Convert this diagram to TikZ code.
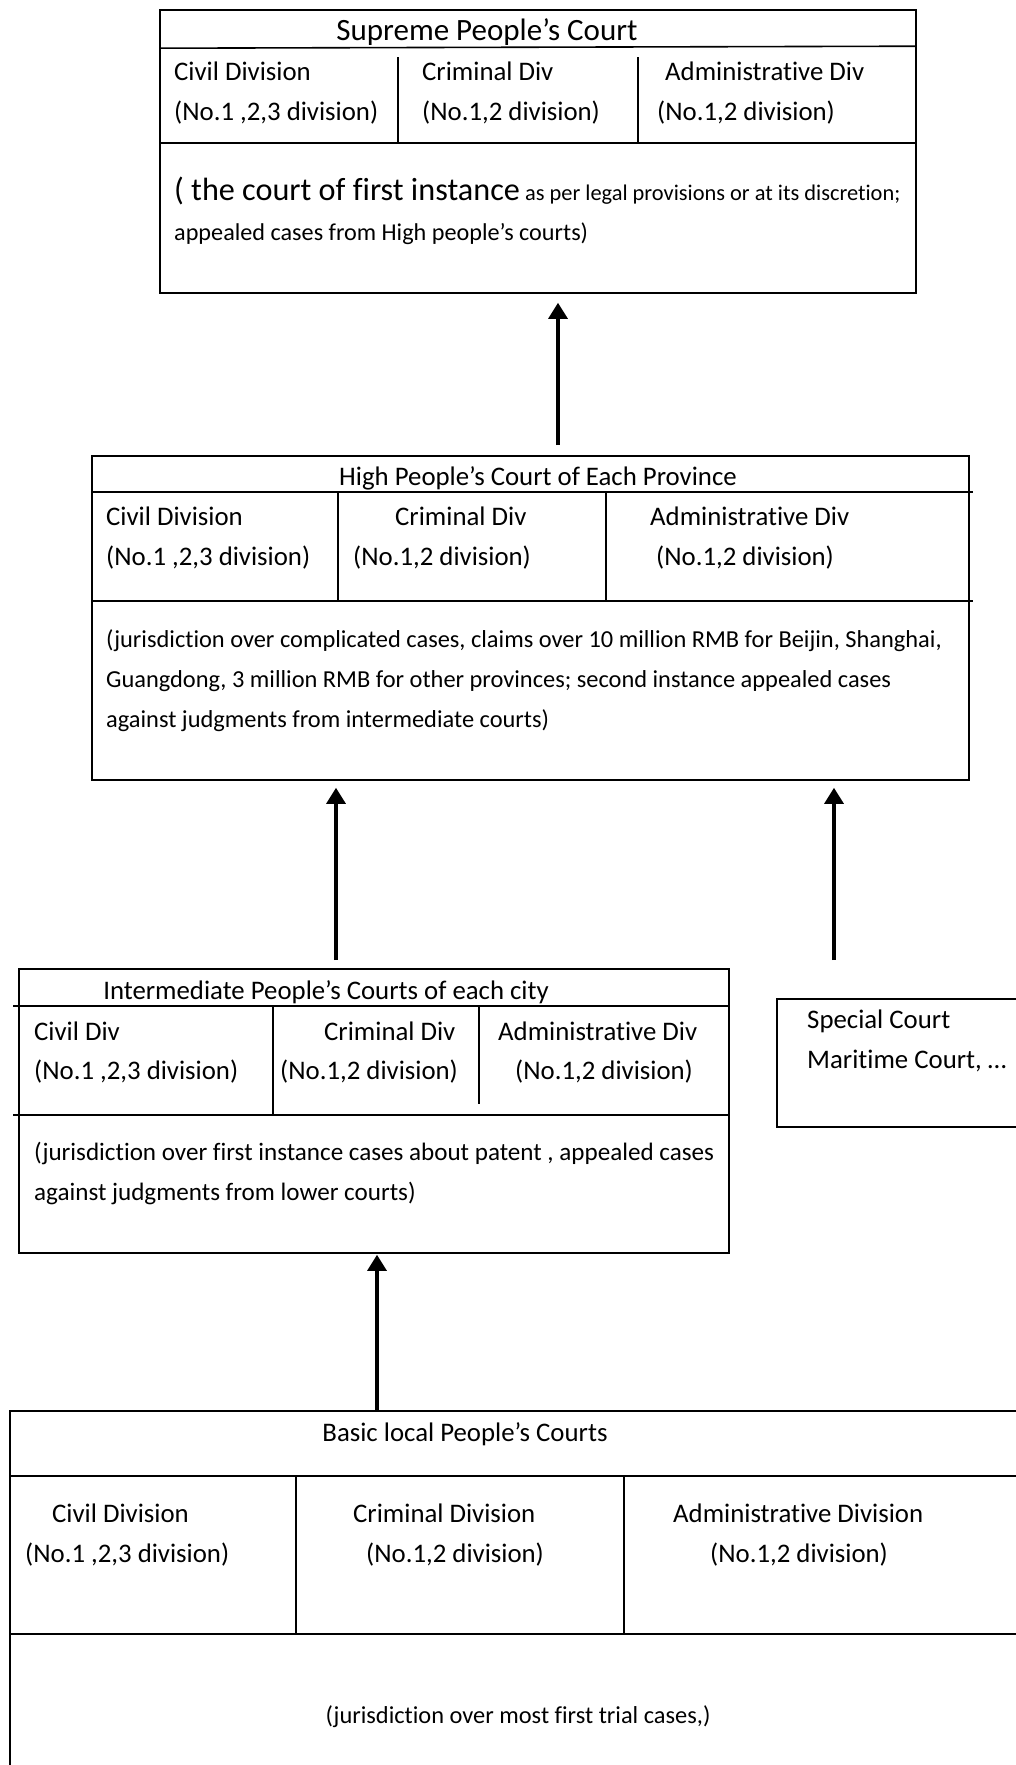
\documentclass[tikz,border=0pt]{standalone}
\usepackage{fontspec}
\setmainfont[Ligatures={TeX,NoCommon}]{Carlito}
\usetikzlibrary{arrows.meta}
\tikzset{
  courtbox/.style={draw, rectangle, line width=1.6pt, inner sep=0pt},
  courtrule/.style={line width=1.6pt},
  courtword/.style={anchor=base west, inner sep=0pt, font=\fontsize{26.8}{32}\selectfont},
  courttitle/.style={courtword, anchor=base},
  courtnote/.style={anchor=base west, inner sep=0pt, font=\fontsize{#1}{32}\selectfont},
  appeal/.style={line width=3.2pt, -{Triangle[width=19pt,length=16pt]}}
}

\begin{document}
\begin{tikzpicture}[x=1pt,y=-1pt]
    \useasboundingbox (0,0) rectangle (1016,1765);

    % Supreme court
    \node[courtbox, minimum width=756pt, minimum height=283pt] (s) at (538,151.5) {};
    \draw[courtrule] (s.north west) ++(0,39) -- ++(756,-2);
    \draw[courtrule] (s.north west) ++(0,134) -- ++(756,0);
    \draw[courtrule] (s.north west) ++(239,48) -- ++(0,86);
    \draw[courtrule] (s.north west) ++(479,48) -- ++(0,86);
    \node[courttitle, font=\fontsize{31}{32}\selectfont] (s-name) at (487,40) {Supreme People’s Court};
    \node[courtword] (s-civ) at (174,80) {Civil Division};
    \node[courtword] (s-civno) at (174,120) {(No.1 ,2,3 division)};
    \node[courtword] (s-cri) at (422,80) {Criminal Div};
    \node[courtword] (s-crino) at (422,120) {(No.1,2 division)};
    \node[courtword] (s-adm) at (665,80) {Administrative Div};
    \node[courtword] (s-admno) at (657,120) {(No.1,2 division)};
    \node[courtnote=22.4] (s-note1) at (174,200) {{\fontsize{32.2}{32}\selectfont ( the court of first instance} as per legal provisions or at its discretion;};
    \node[courtnote=24.2] (s-note2) at (174,240) {appealed cases from High people’s courts)};

    % High court
    \node[courtbox, minimum width=877pt, minimum height=324pt] (h) at (530.5,618) {};
    \draw[courtrule] (h.north west) ++(0,37) -- ++(882,0);
    \draw[courtrule] (h.north west) ++(0,146) -- ++(882,0);
    \draw[courtrule] (h.north west) ++(247,37) -- ++(0,109);
    \draw[courtrule] (h.north west) ++(515,37) -- ++(0,109);
    \node[courttitle] (h-name) at (538,485) {High People’s Court of Each Province};
    \node[courtword] (h-civ) at (106,525) {Civil Division};
    \node[courtword] (h-civno) at (106,565) {(No.1 ,2,3 division)};
    \node[courtword] (h-cri) at (395,525) {Criminal Div};
    \node[courtword] (h-crino) at (353,565) {(No.1,2 division)};
    \node[courtword] (h-adm) at (650,525) {Administrative Div};
    \node[courtword] (h-admno) at (656,565) {(No.1,2 division)};
    \node[courtnote=24.4] (h-note1) at (106,647) {(jurisdiction over complicated cases, claims over 10 million RMB for Beijin, Shanghai,};
    \node[courtnote=24.4] (h-note2) at (106,687) {Guangdong, 3 million RMB for other provinces; second instance appealed cases};
    \node[courtnote=24.4] (h-note3) at (106,727) {against judgments from intermediate courts)};

    % Intermediate court
    \node[courtbox, minimum width=710pt, minimum height=284pt] (i) at (374,1111) {};
    \draw[courtrule] (i.north west) ++(-5,38) -- ++(715,0);
    \draw[courtrule] (i.north west) ++(-5,147) -- ++(715,0);
    \draw[courtrule] (i.north west) ++(255,38) -- ++(0,109);
    \draw[courtrule] (i.north west) ++(461,38) -- ++(0,98);
    \node[courttitle] (i-name) at (326,999) {Intermediate People’s Courts of each city};
    \node[courtword] (i-civ) at (34,1040) {Civil Div};
    \node[courtword] (i-civno) at (34,1079) {(No.1 ,2,3 division)};
    \node[courtword] (i-cri) at (324,1040) {Criminal Div};
    \node[courtword] (i-crino) at (280,1079) {(No.1,2 division)};
    \node[courtword] (i-adm) at (498,1040) {Administrative Div};
    \node[courtword] (i-admno) at (515,1079) {(No.1,2 division)};
    \node[courtnote=25.1] (i-note1) at (34,1160) {(jurisdiction over first instance cases about patent , appealed cases};
    \node[courtnote=25.1] (i-note2) at (34,1200) {against judgments from lower courts)};

    % Special court
    \node[courtbox, minimum width=263pt, minimum height=128pt] (sp) at (908.5,1063) {};
    \node[courtword] (sp-name) at (807,1028) {Special Court};
    \node[courtword] (sp-mar) at (807,1068) {Maritime Court, …};

    % Basic court
    \node[courtbox, minimum width=1030pt, minimum height=379pt] (b) at (525,1600.5) {};
    \draw[courtrule] (b.north west) ++(0,66) -- ++(1030,0);
    \draw[courtrule] (b.north west) ++(0,224) -- ++(1030,0);
    \draw[courtrule] (b.north west) ++(287,66) -- ++(0,158);
    \draw[courtrule] (b.north west) ++(615,66) -- ++(0,158);
    \node[courttitle] (b-name) at (465,1441) {Basic local People’s Courts};
    \node[courtword] (b-civ) at (52,1522) {Civil Division};
    \node[courtword] (b-civno) at (25,1562) {(No.1 ,2,3 division)};
    \node[courtword] (b-cri) at (353,1522) {Criminal Division};
    \node[courtword] (b-crino) at (366,1562) {(No.1,2 division)};
    \node[courtword] (b-adm) at (673,1522) {Administrative Division};
    \node[courtword] (b-admno) at (710,1562) {(No.1,2 division)};
    \node[courtnote=24.4, anchor=base] (b-note) at (518,1723) {(jurisdiction over most first trial cases,)};

    % appeals
    \coordinate (x1) at (558,0);
    \coordinate (x2) at (336,0);
    \coordinate (x3) at (834,0);
    \coordinate (x4) at (377,0);
    \draw[appeal, shorten <=10pt, shorten >=9pt] (h.north -| x1) -- (s.south -| x1);
    \draw[appeal, shorten <=8pt, shorten >=7pt] (i.north -| x2) -- (h.south -| x2);
    \draw[appeal, shorten <=38pt, shorten >=7pt] (sp.north -| x3) -- (h.south -| x3);
    \draw[appeal, shorten >=1pt] (b.north -| x4) -- (i.south -| x4);
\end{tikzpicture}
\end{document}
